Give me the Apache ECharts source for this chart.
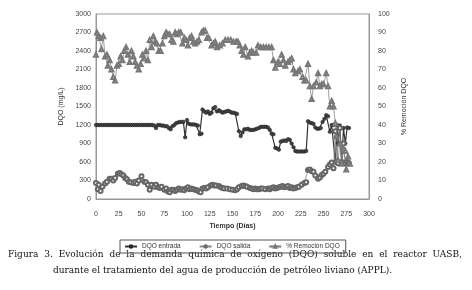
<!DOCTYPE html>
<html>
<head>
<meta charset="utf-8">
<script src="https://cdn.jsdelivr.net/npm/echarts@6/dist/echarts.min.js"></script>
<style>
  html, body { margin: 0; padding: 0; background: #fff; }
  #chart { width: 472px; height: 290px; }
</style>
</head>
<body>
<div id="chart"></div>
<script>
// [día, DQO mg/L]
const dqoEntrada = [
  [0,1200],[2,1200],[4,1200],[6,1200],[8,1200],[10,1200],[12,1200],[14,1200],[16,1200],[18,1200],
  [20,1200],[22,1200],[24,1200],[26,1200],[28,1200],[30,1200],[32,1200],[34,1200],[36,1200],[38,1200],
  [40,1200],[42,1200],[44,1200],[46,1200],[48,1200],[50,1200],[52,1200],[54,1200],[56,1200],[58,1200],
  [60,1200],[62,1200],[64,1190],[66,1150],[68,1200],[70,1200],[72,1190],[74,1190],[76,1180],[78,1180],
  [80,1150],[82,1130],[84,1180],[86,1200],[88,1230],[90,1240],[92,1250],[94,1250],[96,1250],[98,1000],
  [100,1280],[102,1220],[104,1210],[106,1210],[108,1210],[110,1200],[112,1190],[114,1050],[116,1060],[117,1450],
  [119,1420],[121,1400],[123,1420],[125,1380],[127,1400],[129,1470],[131,1490],[133,1420],[135,1440],[137,1420],
  [139,1400],[141,1410],[143,1420],[145,1430],[147,1420],[149,1400],[151,1400],[153,1390],[155,1380],[157,1100],
  [159,1020],[161,1080],[163,1130],[165,1130],[167,1140],[169,1120],[171,1120],[173,1120],[175,1130],[177,1140],
  [179,1150],[181,1170],[183,1170],[185,1170],[187,1170],[189,1160],[191,1120],[193,1060],[195,1050],[197,830],
  [199,820],[201,800],[203,930],[205,940],[207,950],[209,940],[211,970],[213,960],[215,900],[217,840],
  [219,780],[221,770],[223,770],[225,770],[227,770],[229,770],[231,780],[233,1260],[235,1240],[237,1230],
  [239,1220],[241,1160],[243,1140],[245,1140],[247,1150],[249,1250],[251,1300],[253,1360],[255,1340],[257,1090],
  [259,1200],[261,1200],[263,600],[265,1200],[266,900],[268,1190],[270,580],[272,1150],[274,900],[276,1160],
  [278,1150]
];
const dqoSalida = [
  [0,260],[2,160],[3,230],[5,130],[7,200],[10,250],[12,280],[15,330],[17,330],[19,300],
  [21,340],[24,410],[26,420],[28,400],[30,380],[32,340],[34,320],[36,280],[38,270],[41,260],
  [43,280],[45,250],[47,300],[50,370],[53,280],[55,270],[57,230],[59,150],[61,230],[64,200],
  [66,230],[68,190],[70,180],[72,200],[75,150],[77,170],[79,120],[81,110],[83,150],[85,150],
  [87,130],[89,150],[91,170],[93,150],[95,160],[97,140],[99,170],[101,190],[103,160],[105,170],
  [107,160],[109,150],[111,140],[113,120],[115,110],[117,170],[119,180],[121,170],[123,190],[126,220],
  [128,230],[130,220],[132,220],[135,210],[137,190],[139,180],[141,170],[144,170],[147,160],[150,150],
  [153,140],[155,160],[157,190],[160,210],[162,220],[164,210],[166,200],[169,180],[171,170],[173,160],
  [175,170],[177,160],[179,160],[181,170],[183,170],[186,160],[189,170],[191,160],[193,180],[195,190],
  [197,170],[199,180],[201,190],[203,200],[205,210],[207,190],[209,200],[211,210],[213,180],[215,190],
  [217,170],[219,180],[221,190],[223,200],[226,230],[229,260],[231,270],[233,470],[235,480],[237,450],
  [239,440],[241,380],[244,330],[246,350],[248,390],[250,410],[252,440],[255,520],[257,560],[259,590],
  [261,500],[263,1100],[264,600],[266,580],[268,1150],[270,600],[272,900],[274,580],[276,600],[278,580]
];
// [día, % remoción]
const remocion = [
  [0,78],[1,90],[3,88],[5,87],[6,81],[8,88],[10,77],[12,78],[13,72],[15,75],
  [17,70],[19,66],[21,64],[23,72],[25,73],[27,77],[29,75],[31,80],[33,82],[35,78],
  [37,74],[39,80],[41,77],[43,74],[45,72],[47,70],[49,73],[51,78],[53,76],[55,80],
  [57,75],[59,86],[61,82],[63,88],[65,85],[67,84],[69,80],[71,80],[73,84],[75,88],
  [77,90],[79,89],[81,89],[83,86],[85,85],[87,90],[89,89],[91,90],[93,90],[95,84],
  [97,87],[99,86],[101,83],[103,87],[105,88],[107,85],[109,84],[111,85],[113,86],[116,90],
  [118,91],[120,91],[122,87],[124,87],[127,83],[129,84],[131,85],[133,82],[136,83],[139,84],
  [142,86],[145,86],[148,86],[151,85],[154,85],[156,85],[158,83],[160,80],[162,78],[164,82],
  [167,77],[169,79],[171,80],[173,79],[176,79],[178,83],[181,82],[184,82],[187,82],[190,82],
  [193,82],[195,75],[197,71],[200,74],[202,73],[204,78],[206,75],[208,72],[211,74],[213,75],
  [215,76],[217,70],[219,68],[222,69],[224,70],[227,66],[229,64],[231,64],[233,73],[235,61],
  [237,54],[239,61],[242,63],[244,68],[246,61],[248,62],[250,62],[253,68],[255,61],[257,50],
  [259,53],[261,50],[263,41],[264,34],[266,21],[268,30],[270,19],[272,27],[274,26],[275,16],
  [277,23],[279,19]
];
const captionLine1 = 'Figura 3. Evolución de la demanda química de oxígeno (DQO) soluble en el reactor UASB,';
const captionLine2 = 'durante el tratamiento del agua de producción de petróleo liviano (APPL).';

const chart = echarts.init(document.getElementById('chart'));
const lbl = { color: '#444', fontSize: 7, fontFamily: 'Liberation Sans' };
const captionFont = '9px "DejaVu Serif"';

// primera línea justificada: se reparte el espacio entre palabras
const ctx = document.createElement('canvas').getContext('2d');
ctx.font = captionFont;
function justified(text, x0, x1, y) {
  const words = text.split(' ');
  const widths = words.map(w => ctx.measureText(w).width);
  const total = widths.reduce((a, b) => a + b, 0);
  const gap = (x1 - x0 - total) / (words.length - 1);
  let x = x0;
  return words.map((w, i) => {
    const el = { type: 'text', x: x, y: y, style: { text: w, font: captionFont, fill: '#111' } };
    x += widths[i] + gap;
    return el;
  });
}

chart.setOption({
  animation: false,
  backgroundColor: '#fff',
  grid: { left: 96, right: 103, top: 14, bottom: 91, show: true, borderColor: '#999', borderWidth: 1 },
  legend: {
    left: 120, top: 240,
    itemWidth: 12, itemHeight: 3, itemGap: 18,
    padding: [3, 6, 3, 4],
    borderColor: '#555', borderWidth: 1,
    textStyle: { fontSize: 6.5, color: '#333', fontFamily: 'Liberation Sans' },
    data: ['DQO entrada', 'DQO salida', '% Remoción DQO']
  },
  xAxis: {
    type: 'value', min: 0, max: 300, interval: 25,
    name: 'Tiempo (Días)', nameLocation: 'middle', nameGap: 24,
    nameTextStyle: { fontSize: 7, fontWeight: 'bold', color: '#333', fontFamily: 'Liberation Sans' },
    axisLine: { lineStyle: { color: '#999' } },
    axisTick: { show: false },
    splitLine: { show: false },
    axisLabel: Object.assign({ margin: 12 }, lbl)
  },
  yAxis: [
    {
      type: 'value', min: 0, max: 3000, interval: 300,
      name: 'DQO (mg/L)', nameLocation: 'middle', nameGap: 30, nameRotate: 90,
      nameTextStyle: { fontSize: 7, color: '#333', fontFamily: 'Liberation Sans' },
      axisLine: { show: true, lineStyle: { color: '#999' } },
      axisTick: { show: false },
      splitLine: { show: false },
      axisLabel: Object.assign({ margin: 5, formatter: v => String(v) }, lbl)
    },
    {
      type: 'value', min: 0, max: 100, interval: 10,
      name: '% Remoción DQO', nameLocation: 'middle', nameGap: 26, nameRotate: 90,
      nameTextStyle: { fontSize: 7, color: '#333', fontFamily: 'Liberation Sans' },
      axisLine: { show: true, lineStyle: { color: '#999' } },
      axisTick: { show: false },
      splitLine: { show: false },
      axisLabel: Object.assign({ margin: 9 }, lbl)
    }
  ],
  series: [
    {
      name: 'DQO entrada', type: 'line', data: dqoEntrada,
      symbol: 'circle', symbolSize: 3.5, showAllSymbol: true,
      lineStyle: { color: '#333', width: 1.2 },
      itemStyle: { color: '#444', borderColor: '#222', borderWidth: 0.6 }
    },
    {
      name: 'DQO salida', type: 'line', data: dqoSalida,
      symbol: 'emptyCircle', symbolSize: 4, showAllSymbol: true,
      lineStyle: { color: '#888', width: 0.8 },
      itemStyle: { color: '#666', borderColor: '#666', borderWidth: 0.7 }
    },
    {
      name: '% Remoción DQO', type: 'line', yAxisIndex: 1, data: remocion,
      symbol: 'emptyTriangle', symbolSize: 4, showAllSymbol: true,
      lineStyle: { color: '#777', width: 0.7 },
      itemStyle: { color: '#777', borderColor: '#777', borderWidth: 0.6 }
    }
  ],
  graphic: justified(captionLine1, 8, 462, 250).concat([
    { type: 'text', x: 53, y: 266, style: { text: captionLine2, font: captionFont, fill: '#111' } }
  ])
});
</script>
</body>
</html>
